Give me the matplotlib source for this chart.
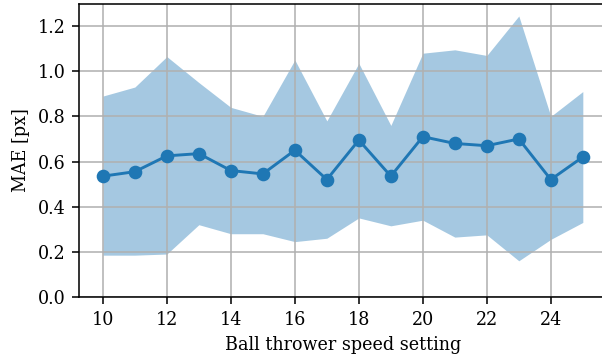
import numpy as np
import matplotlib
matplotlib.use("Agg")
import matplotlib.pyplot as plt

plt.rcParams['font.family'] = 'DejaVu Serif'
plt.rcParams['font.size'] = 9

speeds = list(range(10, 26))
mae_mean = [0.535, 0.555, 0.625, 0.635, 0.56, 0.545, 0.65, 0.52,
            0.695, 0.535, 0.71, 0.68, 0.67, 0.70, 0.52, 0.62]
mae_upper = [0.89, 0.93, 1.065, 0.95, 0.84, 0.80, 1.05, 0.78,
             1.035, 0.76, 1.08, 1.095, 1.07, 1.245, 0.80, 0.91]
mae_lower = [0.185, 0.185, 0.19, 0.32, 0.28, 0.28, 0.245, 0.26,
             0.35, 0.315, 0.34, 0.265, 0.275, 0.16, 0.255, 0.33]

fig, ax = plt.subplots(figsize=(6.02 / 1.4, 3.56 / 1.4), dpi=140)
ax.fill_between(speeds, mae_lower, mae_upper, color='tab:blue', alpha=0.4, linewidth=0)
ax.plot(speeds, mae_mean, 'o-', color='tab:blue')

ax.set_ylim(0, 1.3)
ax.set_xticks(range(10, 26, 2))
ax.set_yticks(np.arange(0, 1.21, 0.2))
ax.grid(True)
ax.set_xlabel('Ball thrower speed setting')
ax.set_ylabel('MAE [px]')

# the right spine sits just past the edge of the saved image
fig.subplots_adjust(left=0.131, right=1.008, top=0.99, bottom=0.166)
fig.savefig('out.png')
